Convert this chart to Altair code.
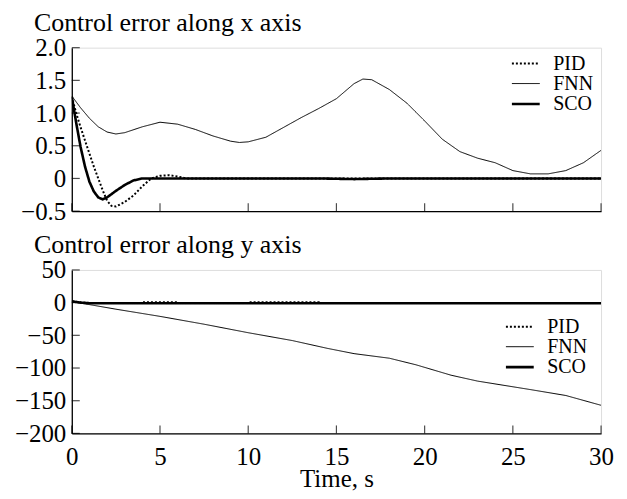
import altair as alt
import pandas as pd

# ---- data ----
series_names = ["PID", "FNN", "SCO"]

# top panel: control error along x axis
top_fnn_t = [0, 0.5, 1, 1.5, 2, 2.5, 3, 4, 5, 6, 7, 8, 9, 9.5, 10, 11, 12, 13, 14, 15, 16, 16.5,
             17, 18, 19, 20, 21, 22, 23, 24, 25, 26, 27, 28, 29, 30]
top_fnn_v = [1.26, 1.08, 0.92, 0.79, 0.71, 0.68, 0.70, 0.79, 0.86, 0.83, 0.75, 0.65, 0.57, 0.55,
             0.56, 0.63, 0.78, 0.93, 1.07, 1.22, 1.45, 1.52, 1.51, 1.36, 1.15, 0.88, 0.60, 0.41,
             0.31, 0.24, 0.12, 0.07, 0.07, 0.12, 0.24, 0.43]

top_sco_t = [0, 0.25, 0.5, 0.75, 1, 1.25, 1.5, 1.75, 2, 2.5, 3, 3.5, 4, 6, 8, 10, 12, 14, 16, 18,
             20, 22, 24, 26, 28, 30]
top_sco_v = [1.25, 0.85, 0.48, 0.18, -0.05, -0.2, -0.29, -0.32, -0.29, -0.19, -0.1, -0.03, 0.0,
             0.0, 0.0, 0.0, 0.0, 0.0, -0.01, 0.0, 0.0, 0.0, 0.0, 0.0, 0.0, 0.0]

top_pid_t = [0, 0.25, 0.5, 0.75, 1, 1.25, 1.5, 1.75, 2, 2.25, 2.5, 3, 3.5, 4, 4.5, 5, 5.5, 6, 6.5,
             8, 10, 12, 14, 16, 18, 20, 22, 24, 26, 28, 30]
top_pid_v = [1.25, 1.0, 0.78, 0.58, 0.38, 0.18, 0.0, -0.18, -0.34, -0.42, -0.43, -0.36, -0.26,
             -0.12, 0.0, 0.04, 0.05, 0.03, 0.0, 0.0, 0.0, 0.0, 0.0, 0.0, 0.0, 0.0, 0.0, 0.0, 0.0,
             0.0, 0.0]

# bottom panel: control error along y axis
bot_fnn_t = [0, 1, 2.5, 5, 7.5, 10, 12.5, 14.5, 16, 18, 19.5, 21.5, 23, 26, 28, 30]
bot_fnn_v = [2, -3, -10, -21, -33, -46, -58, -70, -78, -85, -95, -111, -120, -133, -142, -157]

bot_sco_t = [0, 0.5, 1, 30]
bot_sco_v = [2, 0, -1, -1]

bot_pid_t = [0, 0.5, 1, 4, 4.01, 6, 6.01, 10, 10.01, 14, 14.01, 30]
bot_pid_v = [2, 0.5, -0.5, -0.5, 0.5, 0.5, -0.5, -0.5, 0.5, 0.5, -0.5, -0.5]

x_ticks = [0, 5, 10, 15, 20, 25, 30]
top_y_ticks = [-0.5, 0, 0.5, 1.0, 1.5, 2.0]
bot_y_ticks = [-200, -150, -100, -50, 0, 50]

FONT = "Liberation Serif"


def long_frame(parts):
    rows = []
    for name, ts, vs in parts:
        for t, v in zip(ts, vs):
            rows.append({"t": t, "v": v, "series": name})
    return pd.DataFrame(rows)


top_df = long_frame([("PID", top_pid_t, top_pid_v), ("FNN", top_fnn_t, top_fnn_v),
                     ("SCO", top_sco_t, top_sco_v)])
bot_df = long_frame([("PID", bot_pid_t, bot_pid_v), ("FNN", bot_fnn_t, bot_fnn_v),
                     ("SCO", bot_sco_t, bot_sco_v)])

W, H = 531, 164


def panel(df, ydom, yticks, ylabel_expr, title, show_x_labels, leg_x, leg_y):
    xscale = alt.Scale(domain=[0, 30], nice=False, zero=False)
    yscale = alt.Scale(domain=ydom, nice=False, zero=False)
    legend = alt.Legend(orient="none", legendX=leg_x, legendY=leg_y, title=None,
                        labelFont=FONT, labelFontSize=20, labelColor="black",
                        symbolType="M-1.55,0H1.55", symbolSize=324,
                        symbolStrokeColor="black", symbolFillColor="transparent",
                        labelOffset=17, rowPadding=-5, padding=0)
    if show_x_labels:
        xaxis = alt.Axis(values=x_ticks, ticks=False, labels=True, labelFont=FONT,
                         labelFontSize=25, labelColor="black", labelPadding=11,
                         labelFlush=False, labelOverlap=False, domainColor="black",
                         domainWidth=1.3, grid=False, title="Time, s", titleFont=FONT,
                         titleFontSize=25, titleFontWeight="normal", titleColor="black",
                         titleBaseline="alphabetic", titleY=53)
    else:
        xaxis = alt.Axis(values=x_ticks, ticks=False, labels=False, domainColor="black",
                         domainWidth=1.3, grid=False, title=None)
    yaxis = alt.Axis(values=yticks, ticks=False, labels=True, labelFont=FONT,
                     labelFontSize=25, labelColor="black", labelPadding=6, labelFlush=False,
                     labelOverlap=False, labelExpr=ylabel_expr, domainColor="black",
                     domainWidth=1.3, grid=False, title=None)

    lines = alt.Chart(df).mark_line(color="black", clip=True).encode(
        x=alt.X("t:Q", scale=xscale, axis=xaxis),
        y=alt.Y("v:Q", scale=yscale, axis=yaxis),
        strokeDash=alt.StrokeDash("series:N",
                                  scale=alt.Scale(type="ordinal", domain=series_names,
                                                  range=[[2, 2], [1, 0], [1, 0]]),
                                  legend=legend),
        strokeWidth=alt.StrokeWidth("series:N",
                                    scale=alt.Scale(type="ordinal", domain=series_names,
                                                    range=[2, 1, 2.6]),
                                    legend=legend),
        detail="series:N",
        order=alt.Order("t:Q"),
    )

    xt = pd.DataFrame({"t": x_ticks, "v": [ydom[0]] * len(x_ticks)})
    yt = pd.DataFrame({"t": [0] * len(yticks), "v": yticks})
    xtick_layer = alt.Chart(xt).mark_tick(orient="vertical", size=8, thickness=1.2,
                                          color="black", yOffset=-4).encode(
        x=alt.X("t:Q", scale=xscale, axis=xaxis), y=alt.Y("v:Q", scale=yscale, axis=yaxis))
    ytick_layer = alt.Chart(yt).mark_tick(orient="horizontal", size=8, thickness=1.2,
                                          color="black", xOffset=4).encode(
        x=alt.X("t:Q", scale=xscale, axis=xaxis), y=alt.Y("v:Q", scale=yscale, axis=yaxis))

    return alt.layer(lines, xtick_layer, ytick_layer).properties(
        width=W, height=H,
        title=alt.TitleParams(title, anchor="start", frame="group", dx=-38, offset=-21,
                              baseline="alphabetic", font=FONT, fontSize=26,
                              fontWeight="normal", color="black"),
    )


top = panel(top_df, [-0.5, 2.0], top_y_ticks,
            "datum.value == 0 ? '0' : format(datum.value, '.1f')",
            "Control error along x axis", False, 445, 6)
bot = panel(bot_df, [-200, 50], bot_y_ticks, "format(datum.value, 'd')",
            "Control error along y axis", True, 439, 47)

chart = alt.vconcat(top, bot, spacing=6).resolve_legend(
    strokeDash="independent", strokeWidth="independent"
).properties(
    padding={"left": 5, "top": 0, "right": 5, "bottom": 5}
).configure_view(stroke=None).configure(background="white")

chart.save("out.html", embed_options={"renderer": "svg", "actions": False})
